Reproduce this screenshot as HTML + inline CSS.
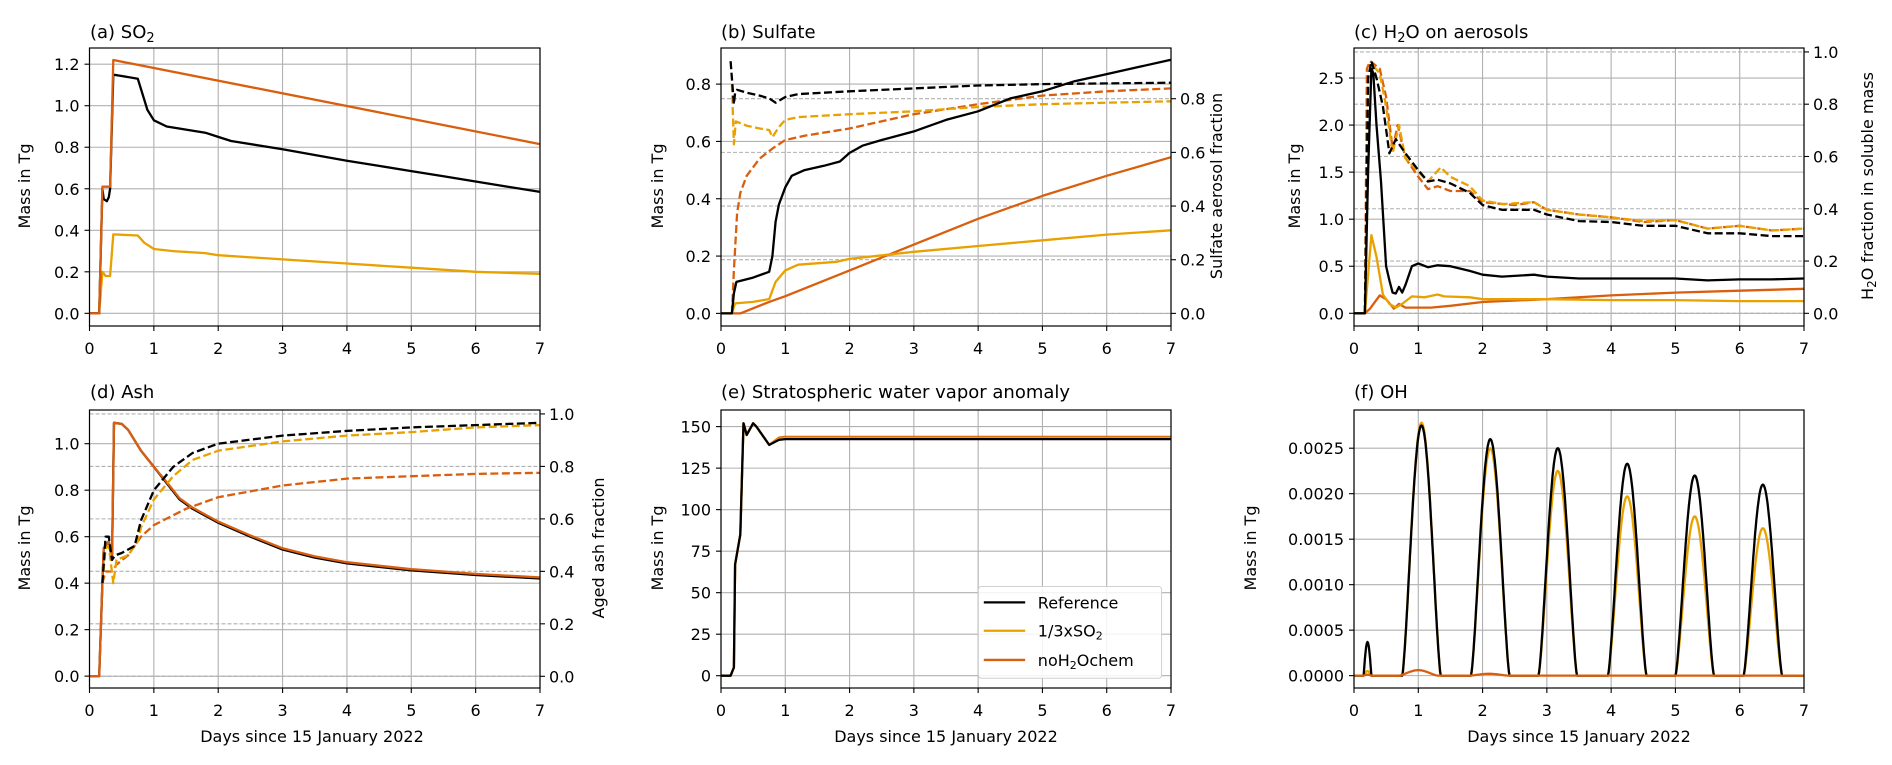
<!DOCTYPE html>
<html><head><meta charset="utf-8">
<style>
html,body{margin:0;padding:0;background:#fff;}
svg{display:block;font-family:"DejaVu Sans","Liberation Sans",sans-serif;}
</style></head>
<body>
<svg id="s" width="1892" height="765" viewBox="0 0 1892 765" xmlns="http://www.w3.org/2000/svg">
<g id="grid"></g>
<g id="series"></g>
<g id="frame"></g>
<g id="txt" font-size="16" fill="#000">
<text x="90" y="38" font-size="18">(a) SO<tspan font-size="13" dy="4">2</tspan></text>
<text x="721" y="38" font-size="18">(b) Sulfate</text>
<text x="1354" y="38" font-size="18">(c) H<tspan font-size="13" dy="4">2</tspan><tspan dy="-4">O on aerosols</tspan></text>
<text x="90" y="398" font-size="18">(d) Ash</text>
<text x="721" y="398" font-size="18">(e) Stratospheric water vapor anomaly</text>
<text x="1354" y="398" font-size="18">(f) OH</text>
<text transform="translate(30,186) rotate(-90)" text-anchor="middle">Mass in Tg</text>
<text transform="translate(663,186) rotate(-90)" text-anchor="middle">Mass in Tg</text>
<text transform="translate(1300,186) rotate(-90)" text-anchor="middle">Mass in Tg</text>
<text transform="translate(30,548) rotate(-90)" text-anchor="middle">Mass in Tg</text>
<text transform="translate(663,548) rotate(-90)" text-anchor="middle">Mass in Tg</text>
<text transform="translate(1256,548) rotate(-90)" text-anchor="middle">Mass in Tg</text>
<text transform="translate(1222,186) rotate(-90)" text-anchor="middle">Sulfate aerosol fraction</text>
<text transform="translate(1873,186) rotate(-90)" text-anchor="middle">H<tspan font-size="12" dy="3">2</tspan><tspan dy="-3">O fraction in soluble mass</tspan></text>
<text transform="translate(604,548) rotate(-90)" text-anchor="middle">Aged ash fraction</text>
<text x="312" y="742" text-anchor="middle">Days since 15 January 2022</text>
<text x="946" y="742" text-anchor="middle">Days since 15 January 2022</text>
<text x="1579" y="742" text-anchor="middle">Days since 15 January 2022</text>
</g>
<g id="ticks" font-size="16" fill="#000"></g>
<g id="legend"></g>
</svg>
<script>
const NS="http://www.w3.org/2000/svg";
function el(p,t,a,txt){const e=document.createElementNS(NS,t);for(const k in a)e.setAttribute(k,a[k]);if(txt!==undefined)e.textContent=txt;p.appendChild(e);return e;}
const G=document.getElementById('grid'),S=document.getElementById('series'),F=document.getElementById('frame'),T=document.getElementById('ticks'),L=document.getElementById('legend');
const K='#000',Y='#e9a100',O='#d95f0e';
const row1={t:48,b:326},row2={t:410,b:688};
const cols=[{l:89.5,r:540},{l:721,r:1171},{l:1354,r:1804}];
function mk(c,r,ymin,ymax,ymin2,ymax2){
  const p={l:c.l,r:c.r,t:r.t,b:r.b};
  p.x=v=>p.l+v/7*(p.r-p.l);
  p.y=v=>p.b-(v-ymin)/(ymax-ymin)*(p.b-p.t);
  if(ymin2!==undefined)p.y2=v=>p.b-(v-ymin2)/(ymax2-ymin2)*(p.b-p.t);
  return p;
}
const A=mk(cols[0],row1,-0.061,1.278);
const B=mk(cols[1],row1,-0.044,0.926,-0.047,0.989);
const C=mk(cols[2],row1,-0.135,2.819,-0.0485,1.015);
const D=mk(cols[0],row2,-0.051,1.145,-0.0446,1.015);
const E=mk(cols[1],row2,-7.4,160);
const Fp=mk(cols[2],row2,-0.000136,0.00292);
function axes(p,lt,rt){
  for(let i=0;i<=7;i++){const x=p.x(i);
    el(G,'line',{x1:x,x2:x,y1:p.t,y2:p.b,stroke:'#b0b0b0','stroke-width':1.1});
    el(F,'line',{x1:x,x2:x,y1:p.b,y2:p.b+5,stroke:'#000','stroke-width':1.1});
    el(T,'text',{x:x,y:p.b+28,'text-anchor':'middle'},String(i));}
  for(const [v,s] of lt){const y=p.y(v);
    el(G,'line',{x1:p.l,x2:p.r,y1:y,y2:y,stroke:'#b0b0b0','stroke-width':1.1});
    el(F,'line',{x1:p.l-5,x2:p.l,y1:y,y2:y,stroke:'#000','stroke-width':1.1});
    el(T,'text',{x:p.l-10,y:y+6,'text-anchor':'end'},s);}
  if(rt)for(const [v,s] of rt){const y=p.y2(v);
    el(G,'line',{x1:p.l,x2:p.r,y1:y,y2:y,stroke:'#b0b0b0','stroke-width':1.1,'stroke-dasharray':'4,2'});
    el(F,'line',{x1:p.r,x2:p.r+5,y1:y,y2:y,stroke:'#000','stroke-width':1.1});
    el(T,'text',{x:p.r+9,y:y+6,'text-anchor':'start'},s);}
  el(F,'rect',{x:p.l,y:p.t,width:p.r-p.l,height:p.b-p.t,fill:'none',stroke:'#000','stroke-width':1.2});
}
const fr=[[0,'0.0'],[0.2,'0.2'],[0.4,'0.4'],[0.6,'0.6'],[0.8,'0.8'],[1,'1.0']];
axes(A,[[0,'0.0'],[0.2,'0.2'],[0.4,'0.4'],[0.6,'0.6'],[0.8,'0.8'],[1,'1.0'],[1.2,'1.2']]);
axes(B,[[0,'0.0'],[0.2,'0.2'],[0.4,'0.4'],[0.6,'0.6'],[0.8,'0.8']],[[0,'0.0'],[0.2,'0.2'],[0.4,'0.4'],[0.6,'0.6'],[0.8,'0.8']]);
axes(C,[[0,'0.0'],[0.5,'0.5'],[1,'1.0'],[1.5,'1.5'],[2,'2.0'],[2.5,'2.5']],fr);
axes(D,[[0,'0.0'],[0.2,'0.2'],[0.4,'0.4'],[0.6,'0.6'],[0.8,'0.8'],[1,'1.0']],fr);
axes(E,[[0,'0'],[25,'25'],[50,'50'],[75,'75'],[100,'100'],[125,'125'],[150,'150']]);
axes(Fp,[[0,'0.0000'],[0.0005,'0.0005'],[0.001,'0.0010'],[0.0015,'0.0015'],[0.002,'0.0020'],[0.0025,'0.0025']]);
function line(p,pts,col,dash){
  const d=pts.map((q,i)=>(i?'L':'M')+p.x(q[0]).toFixed(1)+','+p.y(q[1]).toFixed(1)).join('');
  const a={d:d,fill:'none',stroke:col,'stroke-width':2.3,'stroke-linejoin':'round'};
  if(dash)a['stroke-dasharray']='8,3.5';
  el(S,'path',a);
}
// (a)
line(A,[[0,0],[0.15,0],[0.2,0.2],[0.25,0.18],[0.32,0.18],[0.37,0.38],[0.75,0.375],[0.85,0.34],[1,0.31],[1.3,0.3],[1.8,0.29],[2,0.28],[3,0.26],[4,0.24],[5,0.22],[6,0.2],[7,0.19]],Y);
line(A,[[0,0],[0.15,0],[0.2,0.6],[0.22,0.55],[0.27,0.54],[0.3,0.56],[0.32,0.6],[0.37,1.15],[0.75,1.13],[0.8,1.08],[0.9,0.98],[1,0.93],[1.2,0.9],[1.5,0.885],[1.8,0.87],[2,0.85],[2.2,0.83],[3,0.79],[4,0.735],[4.5,0.71],[5,0.685],[5.5,0.66],[6,0.635],[6.5,0.61],[7,0.585]],K);
line(A,[[0,0],[0.15,0],[0.2,0.61],[0.32,0.61],[0.37,1.22],[7,0.815]],O);
// (b)
line(B,[[0.17,0],[0.2,0.15],[0.25,0.35],[0.3,0.42],[0.4,0.48],[0.6,0.54],[0.8,0.575],[1,0.605],[1.3,0.62],[2,0.645],[3,0.695],[4,0.73],[5,0.76],[6,0.775],[7,0.785]],O,1);
line(B,[[0.17,0.8],[0.2,0.59],[0.23,0.67],[0.4,0.655],[0.6,0.645],[0.75,0.64],[0.8,0.615],[0.9,0.65],[1,0.675],[1.2,0.685],[2,0.695],[3,0.705],[4,0.72],[5,0.73],[6,0.735],[7,0.74]],Y,1);
line(B,[[0.15,0.88],[0.2,0.73],[0.22,0.77],[0.25,0.78],[0.4,0.77],[0.6,0.76],[0.75,0.75],[0.85,0.735],[1,0.755],[1.2,0.765],[2,0.775],[3,0.785],[4,0.795],[5,0.8],[7,0.805]],K,1);
line(B,[[0,0],[0.3,0],[0.75,0.04],[1,0.06],[2,0.15],[3,0.24],[4,0.33],[5,0.41],[6,0.48],[7,0.545]],O);
line(B,[[0,0],[0.17,0],[0.22,0.035],[0.5,0.04],[0.75,0.05],[0.85,0.11],[1,0.15],[1.2,0.17],[1.8,0.18],[2,0.19],[3,0.215],[4,0.235],[5,0.255],[6,0.275],[7,0.29]],Y);
line(B,[[0,0],[0.17,0],[0.2,0.07],[0.24,0.11],[0.5,0.125],[0.75,0.145],[0.8,0.2],[0.85,0.32],[0.9,0.38],[1,0.44],[1.1,0.48],[1.3,0.5],[1.6,0.515],[1.85,0.53],[2,0.56],[2.2,0.585],[2.5,0.605],[3,0.635],[3.5,0.675],[4,0.705],[4.5,0.75],[5,0.775],[5.5,0.81],[6,0.835],[6.5,0.86],[7,0.885]],K);
// (c)
line(C,[[0.17,0],[0.2,2.6],[0.25,2.68],[0.4,2.6],[0.5,2.3],[0.6,1.75],[0.68,2.0],[0.8,1.65],[1,1.45],[1.15,1.32],[1.3,1.35],[1.5,1.3],[1.8,1.3],[2,1.18],[2.5,1.15],[2.8,1.18],[3,1.1],[3.5,1.05],[4,1.02],[4.5,0.97],[5,0.99],[5.5,0.9],[6,0.93],[6.5,0.88],[7,0.9]],O,1);
line(C,[[0.17,0],[0.22,2.5],[0.27,2.65],[0.4,2.55],[0.5,2.2],[0.6,1.7],[0.7,2.0],[0.8,1.65],[1,1.5],[1.15,1.4],[1.35,1.55],[1.5,1.45],[1.8,1.35],[2,1.2],[2.3,1.16],[2.8,1.18],[3,1.1],[3.5,1.05],[4,1.02],[4.5,0.98],[5,0.99],[5.5,0.9],[6,0.93],[6.5,0.88],[7,0.9]],Y,1);
line(C,[[0.17,0],[0.22,2.5],[0.27,2.68],[0.35,2.5],[0.45,2.2],[0.55,1.7],[0.65,1.85],[0.8,1.7],[1,1.52],[1.15,1.4],[1.3,1.42],[1.5,1.38],[1.8,1.28],[2,1.15],[2.3,1.1],[2.8,1.1],[3,1.05],[3.5,0.98],[4,0.97],[4.5,0.93],[5,0.93],[5.5,0.85],[6,0.85],[6.5,0.82],[7,0.82]],K,1);
line(C,[[0,0],[0.17,0],[0.25,0.05],[0.4,0.19],[0.5,0.15],[0.62,0.05],[0.7,0.1],[0.8,0.06],[1.2,0.06],[1.5,0.08],[2,0.12],[3,0.15],[4,0.19],[5,0.22],[6,0.24],[7,0.26]],O);
line(C,[[0,0],[0.17,0],[0.27,0.83],[0.35,0.6],[0.45,0.2],[0.55,0.1],[0.65,0.06],[0.75,0.1],[0.9,0.18],[1.1,0.17],[1.3,0.2],[1.4,0.18],[1.8,0.17],[2,0.15],[3,0.15],[4,0.14],[5,0.14],[6,0.13],[7,0.13]],Y);
line(C,[[0,0],[0.17,0],[0.22,1.5],[0.27,2.6],[0.3,2.55],[0.35,2.0],[0.42,1.4],[0.5,0.5],[0.55,0.35],[0.6,0.22],[0.65,0.21],[0.7,0.28],[0.75,0.22],[0.8,0.3],[0.9,0.5],[1,0.53],[1.15,0.49],[1.3,0.51],[1.5,0.5],[1.8,0.45],[2,0.41],[2.3,0.39],[2.8,0.41],[3,0.39],[3.5,0.37],[4,0.37],[5,0.37],[5.5,0.35],[6,0.36],[6.5,0.36],[7,0.37]],K);
// (d)
const ash=[[0,0],[0.15,0],[0.2,0.4],[0.22,0.55],[0.3,0.58],[0.35,0.5],[0.38,1.09],[0.5,1.085],[0.6,1.06],[0.8,0.97],[1,0.9],[1.2,0.83],[1.4,0.76],[1.6,0.72],[2,0.66],[2.5,0.6],[3,0.545],[3.5,0.51],[4,0.485],[5,0.455],[6,0.435],[7,0.42]];
line(D,ash,K);
line(D,ash.map(q=>[q[0],q[0]>1.1?q[1]+0.005:q[1]]),O);
line(D,[[0.2,0.4],[0.25,0.45],[0.35,0.45],[0.42,0.48],[0.6,0.52],[0.8,0.6],[1,0.65],[1.5,0.72],[2,0.77],[3,0.82],[4,0.85],[5,0.86],[6,0.87],[7,0.875]],O,1);
line(D,[[0.2,0.4],[0.25,0.55],[0.3,0.56],[0.37,0.4],[0.42,0.5],[0.6,0.52],[0.75,0.58],[0.8,0.64],[1,0.76],[1.3,0.86],[1.6,0.93],[2,0.97],[3,1.01],[4,1.035],[5,1.05],[6,1.07],[7,1.08]],Y,1);
line(D,[[0.2,0.4],[0.25,0.6],[0.3,0.6],[0.35,0.5],[0.4,0.52],[0.5,0.53],[0.7,0.56],[0.8,0.67],[1,0.8],[1.3,0.9],[1.6,0.96],[2,1.0],[3,1.035],[4,1.055],[5,1.07],[6,1.08],[7,1.09]],K,1);
// (e)
function ew(end){return [[0,0],[0.15,0],[0.2,5],[0.22,67],[0.3,85],[0.35,152],[0.4,145],[0.5,152],[0.55,150],[0.75,139],[0.9,end-0.5],[1,end],[7,end]];}
line(E,ew(143.8),O);line(E,ew(143.2),Y);line(E,ew(142.5),K);
// (f)
function oh(peaks,small){const pts=[];for(let x=0;x<=7.0001;x+=0.01){let v=0;
  for(const [c,h] of peaks){const w=0.3;if(Math.abs(x-c)<w){const s=Math.cos(Math.PI*(x-c)/(2*w));v+=h*Math.pow(s,1.4);}}
  if(small&&Math.abs(x-0.21)<0.06)v+=small*Math.cos(Math.PI*(x-0.21)/0.12);
  pts.push([x,v]);}return pts;}
line(Fp,oh([[1.05,0.00278],[2.12,0.0025],[3.17,0.00225],[4.25,0.00197],[5.3,0.00175],[6.36,0.00162]],0.00005),Y);
line(Fp,oh([[1.05,0.00275],[2.12,0.0026],[3.17,0.0025],[4.25,0.00233],[5.3,0.0022],[6.36,0.0021]],0.00037),K);
line(Fp,oh([[1.0,0.00006],[2.1,0.00002]],0.00001),O);
// legend
(function(){const p=E,W=p.r-p.l,H=p.b-p.t;
  const x0=p.l+0.572*W,x1=p.l+0.979*W,y0=p.t+0.635*H,y1=p.t+0.965*H;
  el(L,'rect',{x:x0,y:y0,width:x1-x0,height:y1-y0,rx:3,fill:'#fff','fill-opacity':0.85,stroke:'#d0d0d0','stroke-width':1});
  const ent=[[0.692,K,'Reference'],[0.794,Y,'1/3xSO2'],[0.899,O,'noH2Ochem']];
  for(const [f,c,t] of ent){const y=p.t+f*H;
    el(L,'line',{x1:p.l+0.584*W,x2:p.l+0.676*W,y1:y,y2:y,stroke:c,'stroke-width':2.3});
    const tx=el(L,'text',{x:p.l+0.704*W,y:y+6,'font-size':16});
    if(t==='1/3xSO2'){tx.textContent='1/3xSO';el(tx,'tspan',{'font-size':11,dy:3},'2');}
    else if(t==='noH2Ochem'){tx.textContent='noH';el(tx,'tspan',{'font-size':11,dy:3},'2');el(tx,'tspan',{dy:-3},'Ochem');}
    else tx.textContent=t;}
})();
</script>
</body></html>
